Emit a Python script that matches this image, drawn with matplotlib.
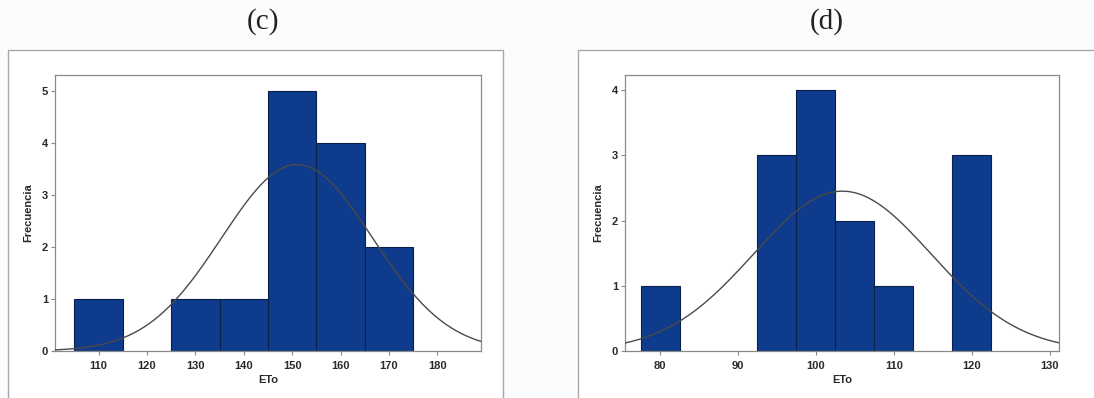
import numpy as np
import matplotlib
matplotlib.use("Agg")
import matplotlib.pyplot as plt
from matplotlib.patches import Rectangle

# Panel (c): ETo histogram, bins of width 10
c_edges = [105, 115, 125, 135, 145, 155, 165, 175]
c_counts = [1, 0, 1, 1, 5, 4, 2]
c_mean, c_sd = 151.0, 15.6
c_xticks = [110, 120, 130, 140, 150, 160, 170, 180]
c_yticks = [0, 1, 2, 3, 4, 5]

# Panel (d): ETo histogram, bins of width 5
d_edges = [77.5, 82.5, 87.5, 92.5, 97.5, 102.5, 107.5, 112.5, 117.5, 122.5]
d_counts = [1, 0, 0, 3, 4, 2, 1, 0, 3]
d_mean, d_sd = 103.4, 11.4
d_xticks = [80, 90, 100, 110, 120, 130]
d_yticks = [0, 1, 2, 3, 4]

W, H = 1094, 398
BAR = "#0f3b8c"
SPINE = "#8a8a8a"
TXT = "#2a2a2a"

fig = plt.figure(figsize=(W / 100, H / 100), dpi=100)
fig.patch.set_facecolor("#fbfcfd")


def px_axes(x0, x1, y0, y1):
    ax = fig.add_axes([x0 / W, 1 - y1 / H, (x1 - x0) / W, (y1 - y0) / H])
    ax.set_zorder(2)
    return ax


def frame(x0, x1, y0, y1):
    fig.patches.append(Rectangle((x0 / W, 1 - y1 / H), (x1 - x0) / W, (y1 - y0) / H,
                                 transform=fig.transFigure, fill=True,
                                 facecolor="white", edgecolor="#a8a8a8",
                                 linewidth=1.0, zorder=-1))


def panel(ax, edges, counts, mean, sd, xlim, ylim, xticks, yticks):
    edges = np.asarray(edges, float)
    counts = np.asarray(counts, float)
    widths = np.diff(edges)
    mask = counts > 0
    ax.bar(edges[:-1][mask], counts[mask], width=widths[mask], align="edge",
           color=BAR, edgecolor="#0a1f4a", linewidth=0.8, zorder=2)
    # fitted normal curve scaled to counts
    n = counts.sum()
    w = widths[0]
    xs = np.linspace(xlim[0], xlim[1], 400)
    ys = n * w / (sd * np.sqrt(2 * np.pi)) * np.exp(-0.5 * ((xs - mean) / sd) ** 2)
    ax.plot(xs, ys, color="#4a4a4a", linewidth=1.0, zorder=3)
    ax.set_xlim(*xlim)
    ax.set_ylim(*ylim)
    ax.set_xticks(xticks)
    ax.set_yticks(yticks)
    for s in ax.spines.values():
        s.set_color(SPINE)
        s.set_linewidth(0.9)
    ax.tick_params(direction="out", length=3, width=0.8, color=SPINE,
                   labelsize=8, labelcolor=TXT)
    ax.tick_params(axis="x", pad=4)
    ax.tick_params(axis="y", pad=2)
    for lab in ax.get_xticklabels() + ax.get_yticklabels():
        lab.set_fontweight("bold")
        lab.set_family("Liberation Sans")
    ax.set_xlabel("ETo", fontsize=8, fontweight="bold", color=TXT,
                  family="Liberation Sans", labelpad=3)
    ax.set_ylabel("Frecuencia", fontsize=8, fontweight="bold", color=TXT,
                  family="Liberation Sans", labelpad=6)
    ax.set_facecolor("white")


frame(8, 503, 50, 420)
frame(578, 1110, 50, 420)

ax1 = px_axes(55, 481, 75, 351)
panel(ax1, c_edges, c_counts, c_mean, c_sd, (101.0, 189.0), (0, 5.3), c_xticks, c_yticks)

ax2 = px_axes(625, 1059, 75, 351)
panel(ax2, d_edges, d_counts, d_mean, d_sd, (75.5, 131.2), (0, 4.23), d_xticks, d_yticks)

fig.text(263 / W, 1 - 22 / H, "(c)", ha="center", va="center", fontsize=21,
         family="Liberation Serif", color="#222222")
fig.text(827 / W, 1 - 22 / H, "(d)", ha="center", va="center", fontsize=21,
         family="Liberation Serif", color="#222222")

fig.savefig("out.png", dpi=100, facecolor=fig.get_facecolor())
